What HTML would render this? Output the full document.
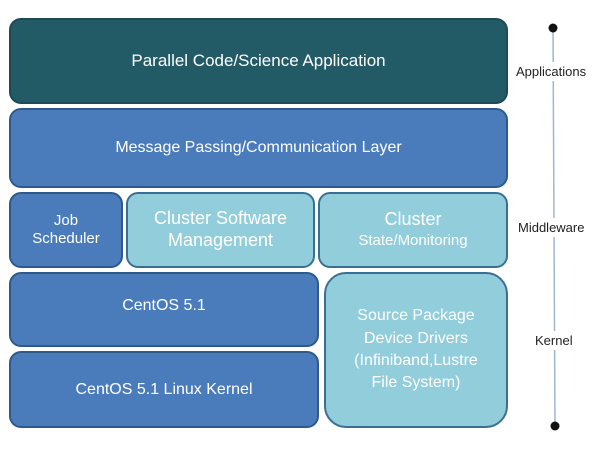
<!DOCTYPE html>
<html><head><style>
body{margin:0;width:600px;height:450px;background:#fff;position:relative;font-family:"Liberation Sans",sans-serif;overflow:hidden}
.b{position:absolute;box-sizing:border-box;border:2px solid #2d5a8a;border-radius:12px;color:#fff;display:flex;align-items:center;justify-content:center;text-align:center;line-height:1.2}
.d{background:#225a66;border-color:#1e4a55}
.m{background:#4a7cbc}
.l{background:#92cddc;border-color:#3a6f93}
.t{position:absolute;font-size:13px;color:#222;background:#fff;padding:2px 0}
</style></head><body>
<svg style="position:absolute;left:0;top:0" width="600" height="450">
<line x1="553" y1="28" x2="555" y2="426" stroke="#9fb7cc" stroke-width="1.5"/>
<circle cx="553" cy="28" r="4.5" fill="#111"/>
<circle cx="555" cy="426" r="4.5" fill="#111"/>
</svg>
<div class="b d" style="left:9px;top:18px;width:499px;height:86px;font-size:17px">Parallel Code/Science Application</div>
<div class="b m" style="left:9px;top:108px;width:499px;height:80px;font-size:16px">Message Passing/Communication Layer</div>
<div class="b m" style="left:9px;top:192px;width:114px;height:76px;font-size:15px">Job<br>Scheduler</div>
<div class="b l" style="left:126px;top:192px;width:189px;height:76px;font-size:18px">Cluster Software<br>Management</div>
<div class="b l" style="left:318px;top:192px;width:190px;height:76px;font-size:18px;line-height:1.1"><div>Cluster<br><span style="font-size:15px">State/Monitoring</span></div></div>
<div class="b m" style="left:9px;top:272px;width:310px;height:75px;font-size:16px;padding-bottom:8px">CentOS 5.1</div>
<div class="b l" style="left:324px;top:272px;width:184px;height:156px;font-size:16px;border-radius:22px;line-height:1.4">Source Package<br>Device Drivers<br>(Infiniband,Lustre<br>File System)</div>
<div class="b m" style="left:9px;top:351px;width:310px;height:77px;font-size:16px">CentOS 5.1 Linux Kernel</div>
<div class="t" style="left:516px;top:62px">Applications</div>
<div class="t" style="left:518px;top:218px">Middleware</div>
<div class="t" style="left:535px;top:331px">Kernel</div>
</body></html>
